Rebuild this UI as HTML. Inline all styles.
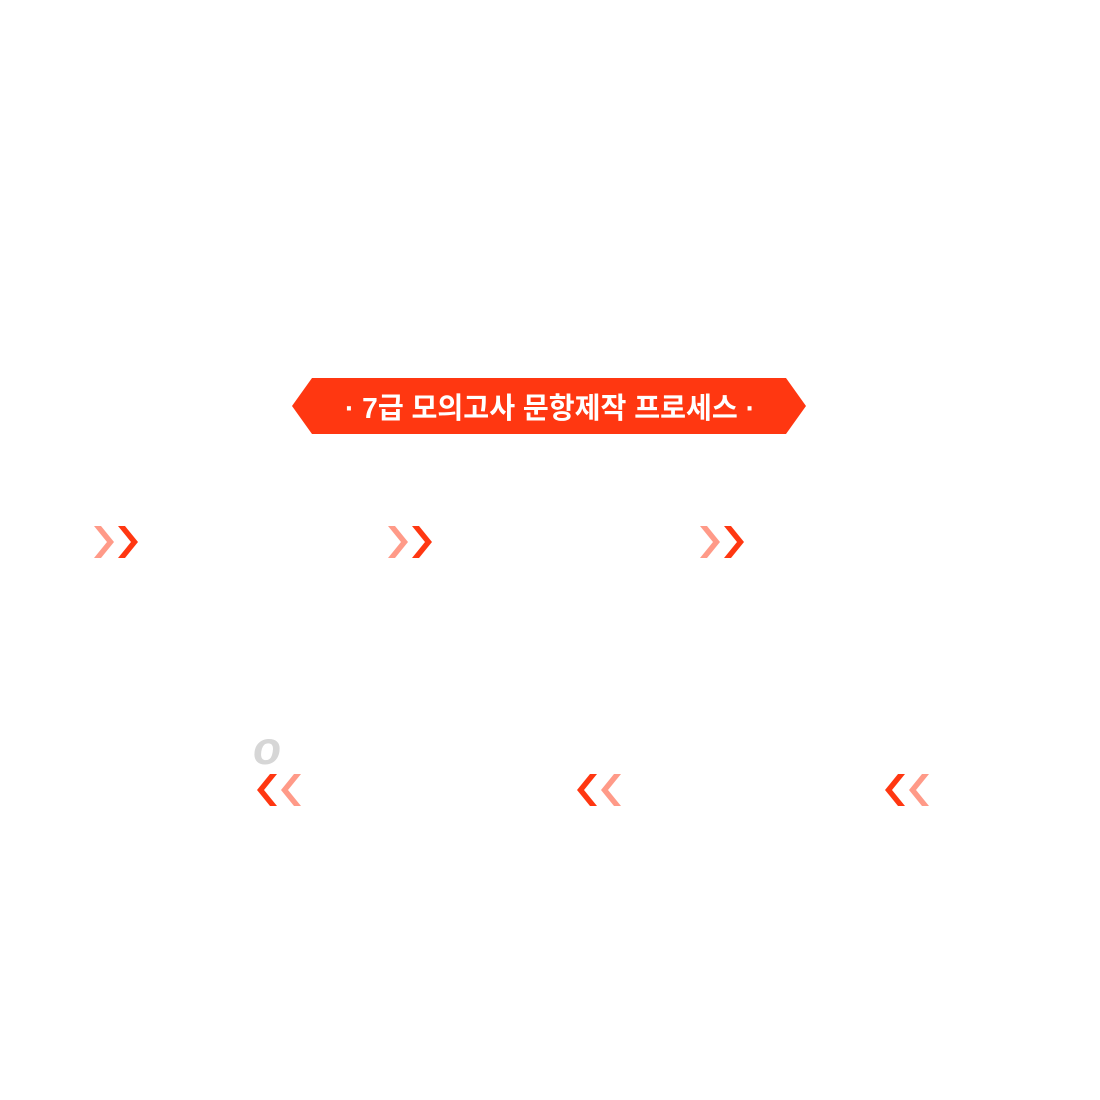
<!DOCTYPE html>
<html><head><meta charset="utf-8"><style>
body{margin:0;background:#fff;width:1100px;height:1100px;overflow:hidden;position:relative}
svg{position:absolute;left:0;top:0}
</style></head><body>
<svg width="1100" height="1100" viewBox="0 0 1100 1100">
<polygon points="312,378 786,378 806,406 786,434 312,434 292,406" fill="#ff3711"/>
<text x="345" y="418" textLength="410" lengthAdjust="spacingAndGlyphs" fill="#fff" font-family="'Liberation Sans','Noto Sans CJK KR',sans-serif" font-weight="bold" font-size="29">· 7급 모의고사 문항제작 프로세스 ·</text>
<defs>
<polygon id="r" points="0,0 7,0 20,16 7,32 0,32 13,16"/>
<polygon id="l" points="20,0 13,0 0,16 13,32 20,32 7,16"/>
</defs>
<use href="#r" x="94" y="526" fill="#ff9a88"/><use href="#r" x="118" y="526" fill="#ff3711"/>
<use href="#r" x="388" y="526" fill="#ff9a88"/><use href="#r" x="412" y="526" fill="#ff3711"/>
<use href="#r" x="700" y="526" fill="#ff9a88"/><use href="#r" x="724" y="526" fill="#ff3711"/>
<use href="#l" x="257" y="774" fill="#ff3711"/><use href="#l" x="281" y="774" fill="#ff9a88"/>
<use href="#l" x="577" y="774" fill="#ff3711"/><use href="#l" x="601" y="774" fill="#ff9a88"/>
<use href="#l" x="885" y="774" fill="#ff3711"/><use href="#l" x="909" y="774" fill="#ff9a88"/>
<text x="267" y="764" text-anchor="middle" fill="#d6d6d6" font-family="'Liberation Sans',sans-serif" font-weight="bold" font-style="italic" font-size="46">o</text>
</svg>
</body></html>
